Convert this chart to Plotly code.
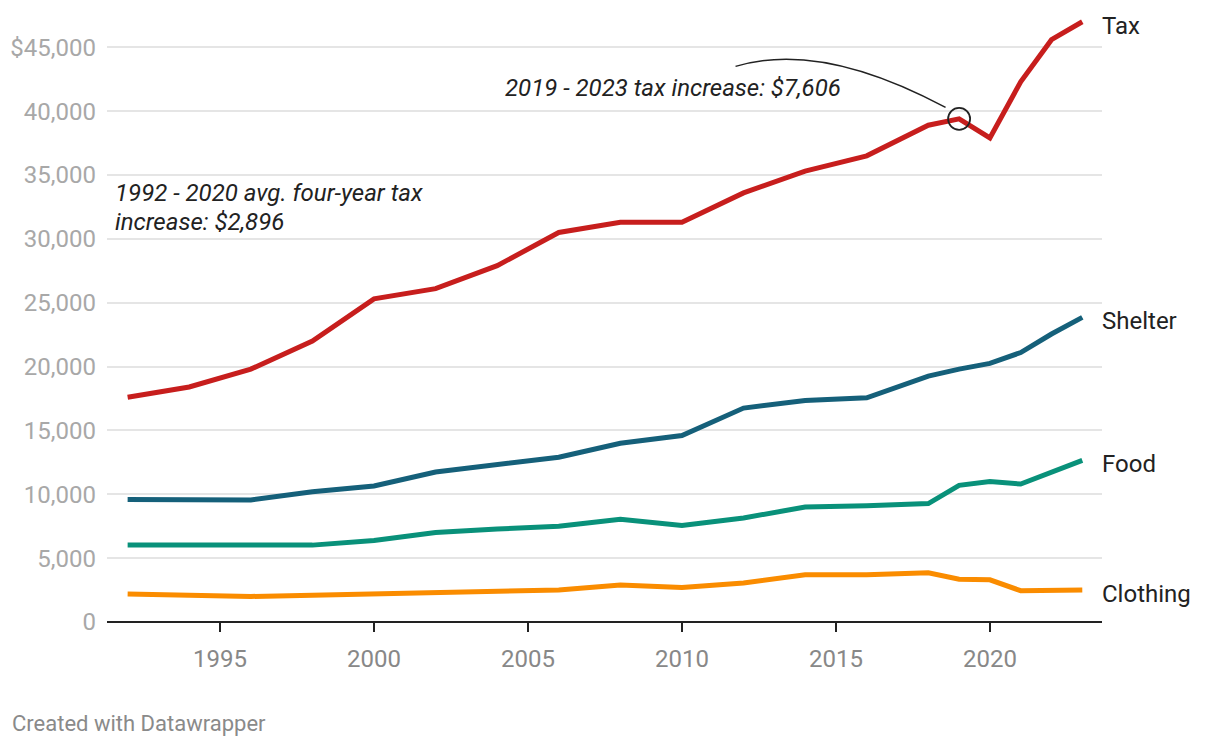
import plotly.graph_objects as go

years = [1992, 1994, 1996, 1998, 2000, 2002, 2004, 2006, 2008, 2010, 2012, 2014, 2016, 2018, 2019, 2020, 2021, 2022, 2023]
tax = [17600, 18400, 19800, 22000, 25300, 26100, 27900, 30500, 31300, 31300, 33600, 35300, 36500, 38900, 39400, 37900, 42300, 45600, 47000]
shelter = [9600, 9580, 9560, 10200, 10650, 11750, 12350, 12900, 14000, 14600, 16750, 17350, 17550, 19250, 19800, 20250, 21100, 22550, 23850]
food = [6020, 6050, 6080, 6020, 6380, 7000, 7280, 7500, 8050, 7550, 8150, 9000, 9100, 9270, 10700, 11000, 10800, 11750, 12650]
clothing = [2200, 2100, 2000, 2100, 2200, 2350, 2420, 2500, 2900, 2700, 3050, 3700, 3700, 3850, 3350, 3300, 2450, 2500, 2500]

series = [
    ("Tax", tax, "#c71e1d"),
    ("Shelter", shelter, "#15607a"),
    ("Food", food, "#09917a"),
    ("Clothing", clothing, "#fa8c00"),
]

ytickvals = [0, 5000, 10000, 15000, 20000, 25000, 30000, 35000, 40000, 45000]
yticktext = ["0", "5,000", "10,000", "15,000", "20,000", "25,000", "30,000", "35,000", "40,000", "$45,000"]
xtickvals = [1995, 2000, 2005, 2010, 2015, 2020]

FONT = "Roboto"
TXT = "#222222"

fig = go.Figure()
for name, vals, color in series:
    fig.add_trace(go.Scatter(
        x=years, y=vals, mode="lines", name=name,
        line=dict(color=color, width=5, shape="linear"),
        hoverinfo="skip", cliponaxis=False,
    ))

annotations = []
for name, vals, color in series:
    annotations.append(dict(
        x=1, xref="paper", y=vals[-1], yref="y", text=name, showarrow=False,
        xanchor="left", yanchor="middle", xshift=-2, yshift=-4,
        font=dict(family=FONT, size=24, color=TXT),
    ))

annotations.append(dict(
    x=0, xref="paper", xshift=6, y=33580, yref="y",
    text="<i>1992 - 2020 avg. four-year tax</i>",
    showarrow=False, xanchor="left", yanchor="middle", align="left",
    font=dict(family=FONT, size=24, color=TXT),
))
annotations.append(dict(
    x=0, xref="paper", xshift=6, y=31300, yref="y",
    text="<i>increase: $2,896</i>",
    showarrow=False, xanchor="left", yanchor="middle", align="left",
    font=dict(family=FONT, size=24, color=TXT),
))
annotations.append(dict(
    x=2015.22, xref="x", y=41780, yref="y",
    text="<i>2019 - 2023 tax increase: $7,606</i>",
    showarrow=False, xanchor="right", yanchor="middle", align="right",
    font=dict(family=FONT, size=24, color=TXT),
))
annotations.append(dict(
    x=0, xref="paper", xshift=-97, y=-0.165, yref="paper",
    text="Created with Datawrapper", showarrow=False,
    xanchor="left", yanchor="middle",
    font=dict(family=FONT, size=22, color="#8a8a8a"),
))

shapes = [
    dict(type="path", xref="x", yref="y",
         path="M 2011.74,43505 Q 2014.50,45540 2018.56,40297",
         line=dict(color=TXT, width=1.5)),
    dict(type="circle", xref="x", yref="y", xsizemode="pixel", ysizemode="pixel",
         xanchor=years[14], yanchor=tax[14], x0=-11, x1=11, y0=-11, y1=11,
         line=dict(color=TXT, width=1.8), fillcolor="rgba(0,0,0,0)"),
]

fig.update_layout(
    width=1212, height=740,
    margin=dict(l=99, r=118, t=1, b=126),
    paper_bgcolor="white", plot_bgcolor="white",
    showlegend=False,
    annotations=annotations, shapes=shapes,
    font=dict(family=FONT),
    xaxis=dict(
        range=[1991.33, 2023.64], tickvals=xtickvals,
        ticks="outside", ticklen=9, tickwidth=2, tickcolor=TXT,
        showline=False, showgrid=False, zeroline=False,
        ticklabelstandoff=6,
        tickfont=dict(family=FONT, size=24, color="#888888"),
        fixedrange=True,
    ),
    yaxis=dict(
        range=[0, 48000], tickvals=ytickvals, ticktext=yticktext,
        showgrid=True, gridcolor="#e5e5e5", gridwidth=2,
        zeroline=True, zerolinecolor=TXT, zerolinewidth=2,
        ticks="", ticklabelstandoff=10,
        tickfont=dict(family=FONT, size=24, color="#a8a8a8"),
        fixedrange=True,
    ),
)

fig.write_html("out.html")
